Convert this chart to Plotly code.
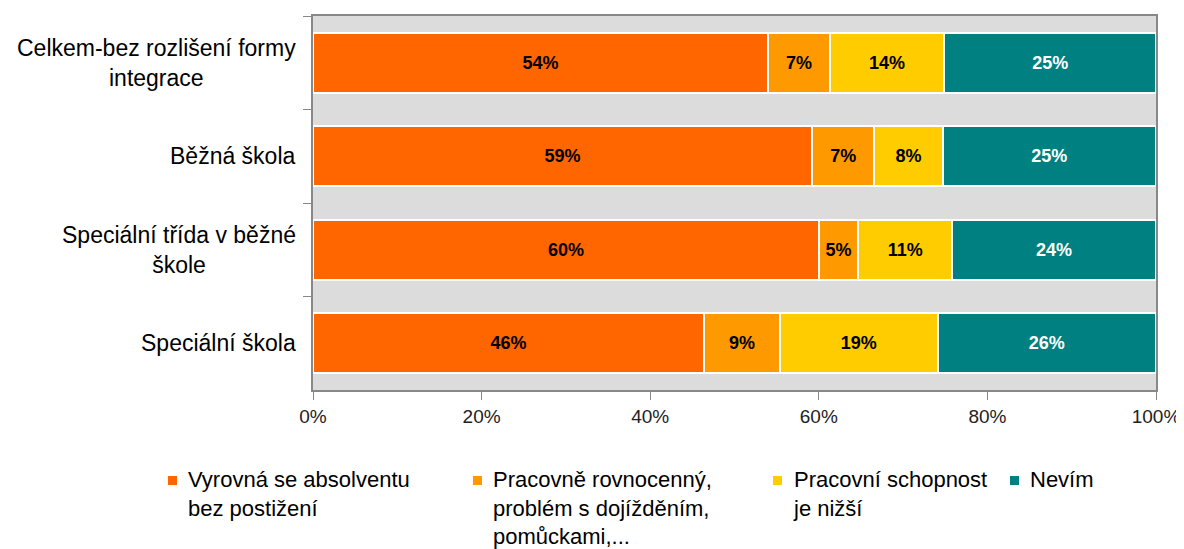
import plotly.graph_objects as go

categories = ["Celkem-bez rozlišení formy<br>integrace", "Běžná škola",
              "Speciální třída v běžné<br>škole", "Speciální škola"]
series_names = ["Vyrovná se absolventu<br>bez postižení",
                "Pracovně rovnocenný,<br>problém s dojížděním,<br>pomůckami,...",
                "Pracovní schopnost<br>je nižší",
                "Nevím"]
vyrovna = [54.0, 59.2, 60.0, 46.4]
rovnocenny = [7.3, 7.4, 4.7, 9.0]
nizsi = [13.6, 8.1, 11.1, 18.7]
nevim = [25.1, 25.3, 24.2, 25.9]
colors = ["#FF6600", "#FF9900", "#FFCC00", "#008080"]
text_colors = ["black", "black", "black", "white"]

FONT = "Liberation Sans"
# page body has an 8px margin, so the figure is a bit smaller than the window
OFF = 8
W, H = 1176, 541
L, T = 313 - OFF, 16 - OFF
R = W - (1156 - OFF)
B = H - (390 - OFF)
pw, ph = W - L - R, H - T - B


def px_x(p):
    return (p - OFF - L) / pw


def px_y(p):
    return (H - B - (p - OFF)) / ph


fig = go.Figure()
for name, vals, c, tc in zip(series_names, [vyrovna, rovnocenny, nizsi, nevim], colors, text_colors):
    fig.add_trace(go.Bar(
        y=categories, x=vals, name=name, orientation="h", showlegend=False,
        marker=dict(color=c, line=dict(color="white", width=2)),
        texttemplate="%{x:.0f}%", textposition="inside", insidetextanchor="middle",
        textangle=0, textfont=dict(family=FONT, size=18, color=tc, weight="bold"),
        constraintext="none", hoverinfo="skip",
    ))

# category labels, centred like the original
for cat in categories:
    fig.add_annotation(x=px_x(298), xref="paper", y=cat, yref="y", text=cat,
                       showarrow=False, xanchor="right", align="center",
                       font=dict(family=FONT, size=23, color="black"))

# legend drawn by hand so the items sit where the original has them
legend_left = [168, 473, 773, 1010]
for name, c, x0 in zip(series_names, colors, legend_left):
    fig.add_shape(type="rect", xref="paper", yref="paper",
                  x0=px_x(x0), x1=px_x(x0 + 9), y0=px_y(476), y1=px_y(485),
                  fillcolor=c, line=dict(width=0))
    fig.add_annotation(x=px_x(x0 + 18), xref="paper", y=px_y(465), yref="paper",
                       text=name, showarrow=False, xanchor="left", yanchor="top",
                       align="left", font=dict(family=FONT, size=22, color="black"))

fig.update_layout(
    barmode="stack", bargap=0.36,
    width=W, height=H,
    margin=dict(l=L, r=R, t=T, b=B, autoexpand=False),
    plot_bgcolor="#DCDCDC", paper_bgcolor="white",
    font=dict(family=FONT, size=18, color="black"),
    showlegend=False,
    xaxis=dict(range=[0, 100], tickvals=[0, 20, 40, 60, 80, 100],
               ticktext=["0%", "20%", "40%", "60%", "80%", "100%"],
               ticks="outside", ticklen=8, tickcolor="#888888",
               showline=True, linecolor="#888888", linewidth=2, mirror=True,
               showgrid=False, zeroline=False, automargin=False,
               tickfont=dict(family=FONT, size=19, color="#222222")),
    yaxis=dict(autorange="reversed", tickson="boundaries", ticks="outside",
               ticklen=8, tickcolor="#888888", showticklabels=False,
               showline=True, linecolor="#888888", linewidth=2, mirror=True,
               showgrid=False, automargin=False),
)

fig.write_html("out.html")
